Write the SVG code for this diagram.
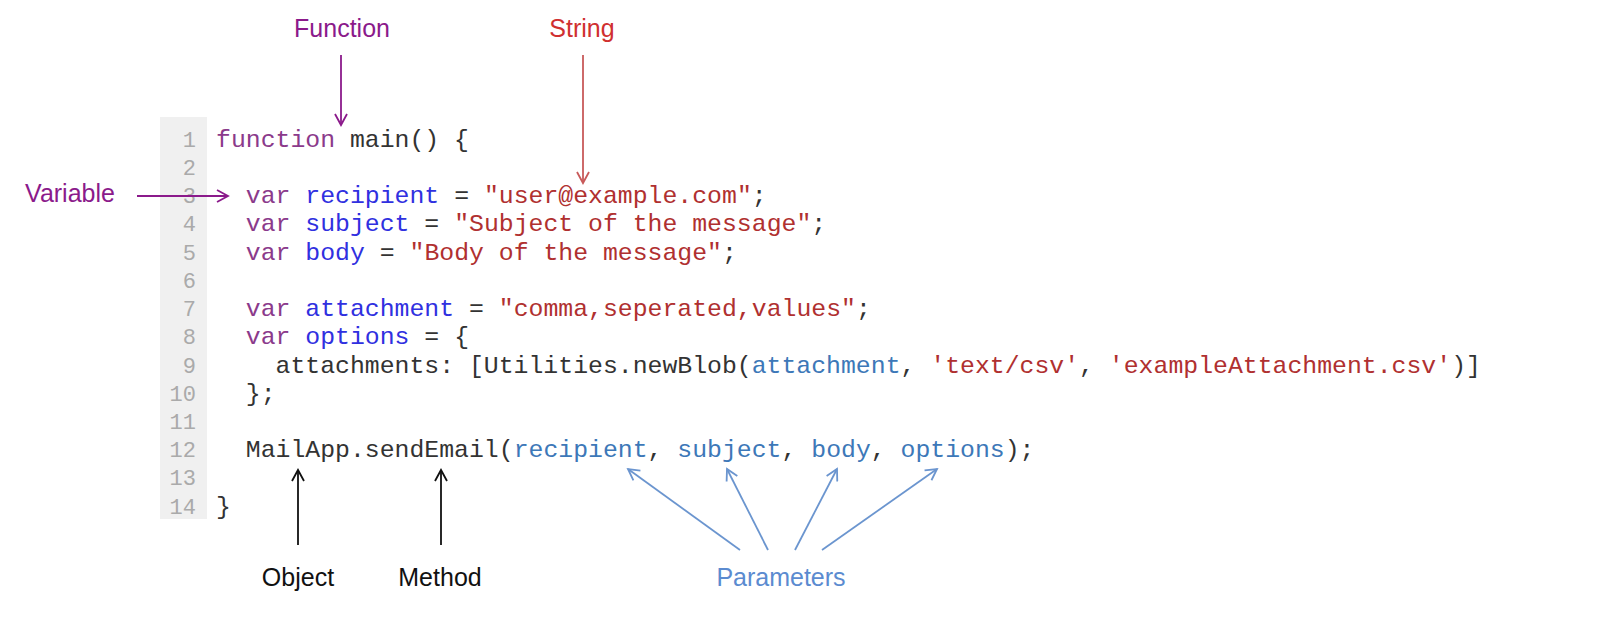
<svg xmlns="http://www.w3.org/2000/svg" width="1606" height="636" viewBox="0 0 1606 636">
<style>
.c{font-family:"Liberation Mono","Courier New",monospace;font-size:24.8px;fill:#333}
.n{font-family:"Liberation Mono",monospace;font-size:22px;fill:#aaa;text-anchor:end}
.k{fill:#8b3a8b}.v{fill:#3030e0}.s{fill:#b03030}.p{fill:#3d78b8}
.l{font-family:"Liberation Sans",Arial,sans-serif;font-size:25px;text-anchor:middle}
</style>
<defs>
<marker id="ap" markerWidth="14" markerHeight="14" refX="12" refY="7" orient="auto" markerUnits="userSpaceOnUse"><path d="M1,1 L12,7 L1,13" fill="none" stroke="#8b1a8b" stroke-width="1.8"/></marker>
<marker id="ar" markerWidth="14" markerHeight="14" refX="12" refY="7" orient="auto" markerUnits="userSpaceOnUse"><path d="M1,1 L12,7 L1,13" fill="none" stroke="#c85a5a" stroke-width="1.8"/></marker>
<marker id="ak" markerWidth="14" markerHeight="14" refX="12" refY="7" orient="auto" markerUnits="userSpaceOnUse"><path d="M1,1 L12,7 L1,13" fill="none" stroke="#111" stroke-width="1.8"/></marker>
<marker id="ab" markerWidth="14" markerHeight="14" refX="12" refY="7" orient="auto" markerUnits="userSpaceOnUse"><path d="M1,1 L12,7 L1,13" fill="none" stroke="#6b95cf" stroke-width="1.8"/></marker>
</defs>
<rect width="1606" height="636" fill="#fff"/>
<g id="code">
<rect x="160" y="117" width="47" height="402" fill="#f0f0f0"/>
<g class="n">
<text x="196" y="147">1</text><text x="196" y="175">2</text><text x="196" y="203">3</text><text x="196" y="231">4</text><text x="196" y="260">5</text><text x="196" y="288">6</text><text x="196" y="316">7</text><text x="196" y="344">8</text><text x="196" y="373">9</text><text x="196" y="401">10</text><text x="196" y="429">11</text><text x="196" y="457">12</text><text x="196" y="485">13</text><text x="196" y="514">14</text>
</g>
<text class="c" x="216" y="147" xml:space="preserve"><tspan class="k">function</tspan> main() {</text>
<text class="c" x="216" y="203" xml:space="preserve">  <tspan class="k">var</tspan> <tspan class="v">recipient</tspan> = <tspan class="s">"user@example.com"</tspan>;</text>
<text class="c" x="216" y="231" xml:space="preserve">  <tspan class="k">var</tspan> <tspan class="v">subject</tspan> = <tspan class="s">"Subject of the message"</tspan>;</text>
<text class="c" x="216" y="260" xml:space="preserve">  <tspan class="k">var</tspan> <tspan class="v">body</tspan> = <tspan class="s">"Body of the message"</tspan>;</text>
<text class="c" x="216" y="316" xml:space="preserve">  <tspan class="k">var</tspan> <tspan class="v">attachment</tspan> = <tspan class="s">"comma,seperated,values"</tspan>;</text>
<text class="c" x="216" y="344" xml:space="preserve">  <tspan class="k">var</tspan> <tspan class="v">options</tspan> = {</text>
<text class="c" x="216" y="373" xml:space="preserve">    attachments: [Utilities.newBlob(<tspan class="p">attachment</tspan>, <tspan class="s">'text/csv'</tspan>, <tspan class="s">'exampleAttachment.csv'</tspan>)]</text>
<text class="c" x="216" y="401" xml:space="preserve">  };</text>
<text class="c" x="216" y="457" xml:space="preserve">  MailApp.sendEmail(<tspan class="p">recipient</tspan>, <tspan class="p">subject</tspan>, <tspan class="p">body</tspan>, <tspan class="p">options</tspan>);</text>
<text class="c" x="216" y="514">}</text>
</g>
<g id="labels">
<text class="l" x="342" y="37" fill="#8b1a8b">Function</text>
<text class="l" x="582" y="37" fill="#d03030">String</text>
<text class="l" x="70" y="202" fill="#8b1a8b">Variable</text>
<text class="l" x="298" y="586" fill="#111">Object</text>
<text class="l" x="440" y="586" fill="#111">Method</text>
<text class="l" x="781" y="586" fill="#5b8bd0">Parameters</text>
</g>
<g id="connectors" fill="none" stroke-width="1.8">
<line x1="341" y1="55" x2="341" y2="125" stroke="#8b1a8b" marker-end="url(#ap)"/>
<line x1="583" y1="55" x2="583" y2="183" stroke="#c85a5a" marker-end="url(#ar)"/>
<line x1="137" y1="196" x2="228" y2="196" stroke="#8b1a8b" marker-end="url(#ap)"/>
<line x1="298" y1="545" x2="298" y2="470" stroke="#111" marker-end="url(#ak)"/>
<line x1="441" y1="545" x2="441" y2="470" stroke="#111" marker-end="url(#ak)"/>
<line x1="740" y1="550" x2="628" y2="469" stroke="#6b95cf" marker-end="url(#ab)"/>
<line x1="768" y1="550" x2="727" y2="469" stroke="#6b95cf" marker-end="url(#ab)"/>
<line x1="795" y1="550" x2="837" y2="469" stroke="#6b95cf" marker-end="url(#ab)"/>
<line x1="822" y1="550" x2="937" y2="469" stroke="#6b95cf" marker-end="url(#ab)"/>
</g>
</svg>
